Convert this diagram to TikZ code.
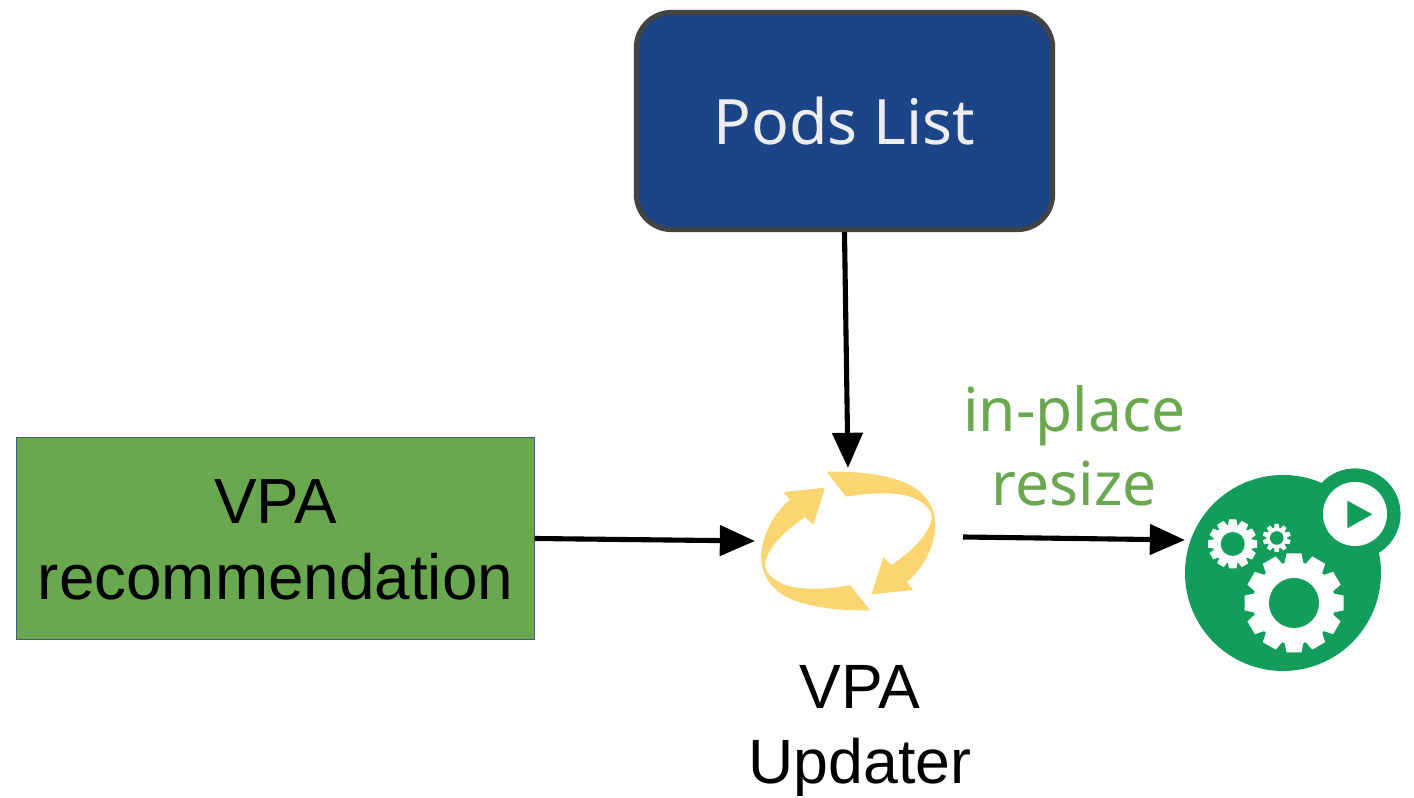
\documentclass[tikz,border=0pt]{standalone}
\usepackage{fontspec}
\setmainfont{Liberation Sans}
\newfontfamily\labelfont{Noto Sans}
\usepackage{xcolor}
\usepackage{tikz}
\usetikzlibrary{arrows.meta}

\definecolor{podblue}{HTML}{1C4587}
\definecolor{podgray}{HTML}{434343}
\definecolor{recgreen}{HTML}{6AA84F}
\definecolor{loopyellow}{HTML}{FBD572}
\definecolor{appgreen}{HTML}{129D5A}

\tikzset{
	flow/.style={line width=1.45pt,-{Triangle[length=10pt,width=8.5pt]},shorten >=0pt},
	bigtext/.style={font=\fontsize{18.15}{21.6}\selectfont,align=center},
}

% gear: centre x, centre y, outer radius, root radius, hole radius, teeth
\newcommand{\drawgear}[6]{
	\fill[white] (#1,#2) circle (#4);
	\foreach \i in {1,...,#6}{
		\fill[white,shift={(#1,#2)},rotate=\i*360/#6] (-0.19*#3,-#4+1) -- (-0.15*#3,-#3) -- (0.15*#3,-#3) -- (0.19*#3,-#4+1) -- cycle;
	}
	\fill[appgreen] (#1,#2) circle (#5);
}

\begin{document}
\begin{tikzpicture}[x=0.01cm,y=-0.01cm]
	\useasboundingbox (0,0) rectangle (1414,798);

	\node[draw=podgray,fill=podblue,line width=1.45pt,rounded corners=10pt,minimum width=4.16cm,minimum height=2.17cm] (pods) at (844.5,121) {};
	\node[text=white!93!black,font=\fontsize{17.8}{21}\labelfont] (podstext) at (844.5,121) {Pods List};

	\node[draw=podblue!60!gray,fill=recgreen,line width=0.3pt,minimum width=5.17cm,minimum height=2.01cm] (rec) at (275.5,538.5) {};
	\node[bigtext] (rectext) at (275.5,540) {VPA\\recommendation};

	\node[bigtext,font=\fontsize{17.8}{21.2}\selectfont] (updater) at (860,731) {VPA\\Updater};
	\node[text=recgreen,font=\fontsize{17.2}{20.9}\labelfont,align=center] (resize) at (1074.5,446) {in-place\\resize};

	% the two arrows of the loop
	\foreach \a in {0,180}{
		\fill[loopyellow,shift={(848.3,541)},rotate=\a] (-21.7,-69.3) .. controls (15,-70) and (50,-65) .. (68,-52)
			.. controls (82,-42) and (88,-28) .. (87,-12)
			.. controls (85,10) and (72,30) .. (58.3,41.3) -- (65,49) -- (23.3,53.3) -- (35,16.3) -- (43.3,24)
			.. controls (62,11) and (80,-5) .. (83.3,-22)
			.. controls (84,-32) and (75,-40) .. (60,-45)
			.. controls (40,-50) and (15,-47) .. (-2.3,-44.3) -- cycle;
	}
	\coordinate (loopin) at (848,468);
	\coordinate (loopleft) at (755,541);
	\coordinate (loopright) at (963,537);

	% the running application
	\fill[appgreen] (1283,573) circle (98);
	\fill[appgreen] (1355,514) circle (45.6);
	\fill[white] (1355,514) circle (32);
	\fill[appgreen] (1347.3,500.7) -- (1372.3,514.3) -- (1347.3,528.3) -- cycle;
	\drawgear{1294}{603}{49.5}{41}{25}{12}
	\drawgear{1232.7}{544}{24.5}{19.5}{12}{12}
	\drawgear{1276.7}{538}{14}{10.5}{6.8}{10}
	\coordinate (appin) at (1185,540);

	\draw[flow] (pods.south) -- (loopin);
	\draw[flow] (rec.east) -- (loopleft);
	\draw[flow] (loopright) -- (appin);
\end{tikzpicture}
\end{document}
